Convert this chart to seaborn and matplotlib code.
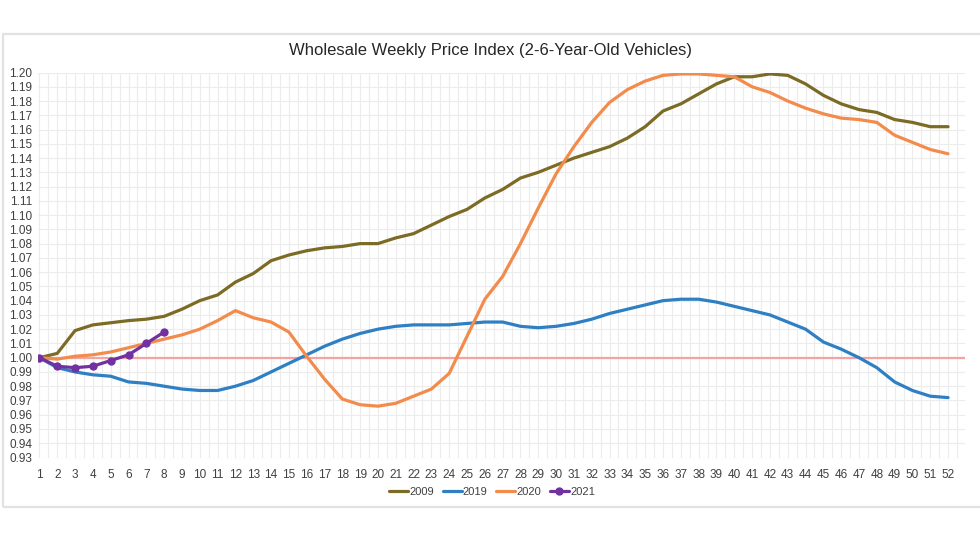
import numpy as np
import pandas as pd
import matplotlib
matplotlib.use("Agg")
import matplotlib.pyplot as plt
from matplotlib.patches import Rectangle
from matplotlib.ticker import MultipleLocator
from matplotlib.lines import Line2D
import seaborn as sns

weeks = list(range(1, 53))

y2009 = [1.000, 1.003, 1.019, 1.023, 1.0245, 1.026, 1.027, 1.029, 1.034, 1.040,
         1.044, 1.053, 1.059, 1.068, 1.072, 1.075, 1.077, 1.078, 1.080, 1.080,
         1.084, 1.087, 1.093, 1.099, 1.104, 1.112, 1.118, 1.126, 1.130, 1.135,
         1.140, 1.144, 1.148, 1.154, 1.162, 1.173, 1.178, 1.185, 1.192, 1.197,
         1.197, 1.199, 1.198, 1.192, 1.184, 1.178, 1.174, 1.172, 1.167, 1.165,
         1.162, 1.162]

y2019 = [1.000, 0.993, 0.990, 0.988, 0.987, 0.983, 0.982, 0.980, 0.978, 0.977,
         0.977, 0.980, 0.984, 0.990, 0.996, 1.002, 1.008, 1.013, 1.017, 1.020,
         1.022, 1.023, 1.023, 1.023, 1.024, 1.025, 1.025, 1.022, 1.021, 1.022,
         1.024, 1.027, 1.031, 1.034, 1.037, 1.040, 1.041, 1.041, 1.039, 1.036,
         1.033, 1.030, 1.025, 1.020, 1.011, 1.006, 1.000, 0.993, 0.983, 0.977,
         0.973, 0.972]

y2020 = [1.000, 0.999, 1.001, 1.002, 1.004, 1.007, 1.010, 1.013, 1.016, 1.020,
         1.026, 1.033, 1.028, 1.025, 1.018, 1.001, 0.985, 0.971, 0.967, 0.966,
         0.968, 0.973, 0.978, 0.989, 1.015, 1.041, 1.057, 1.080, 1.105, 1.129,
         1.148, 1.165, 1.179, 1.188, 1.194, 1.198, 1.199, 1.199, 1.198, 1.197,
         1.190, 1.186, 1.180, 1.175, 1.171, 1.168, 1.167, 1.165, 1.156, 1.151,
         1.146, 1.143]

weeks2021 = [1, 2, 3, 4, 5, 6, 7, 8]
y2021 = [1.000, 0.994, 0.993, 0.994, 0.998, 1.002, 1.010, 1.018]

series_names = ["2009", "2019", "2020", "2021"]
colors = {"2009": "#7b6b24", "2019": "#2e7fc3", "2020": "#f28b4c", "2021": "#7131a1"}

df = pd.concat([
    pd.DataFrame({"week": weeks, "index": y2009, "year": "2009"}),
    pd.DataFrame({"week": weeks, "index": y2019, "year": "2019"}),
    pd.DataFrame({"week": weeks, "index": y2020, "year": "2020"}),
    pd.DataFrame({"week": weeks2021, "index": y2021, "year": "2021"}),
], ignore_index=True)

sns.set_theme(style="white")
plt.rcParams["font.family"] = ["Liberation Sans", "DejaVu Sans"]

fig = plt.figure(figsize=(9.8, 5.52), dpi=100)
ax = fig.add_axes([38 / 980, (552 - 457.5) / 552, (965 - 38) / 980, (457.5 - 72.5) / 552])

# outer chart border
fig.patches.append(Rectangle((3 / 980, (552 - 507) / 552), 1.0, (507 - 34) / 552,
                             transform=fig.transFigure, fill=False,
                             edgecolor="#e2e2e2", linewidth=1.6, zorder=0))

ax.axhline(1.0, color="#f4a3a3", linewidth=1.6, zorder=1)

sns.lineplot(data=df[df.year != "2021"], x="week", y="index", hue="year",
             hue_order=["2009", "2019", "2020"], palette=colors,
             linewidth=2.3, ax=ax, legend=False, zorder=3)
sns.lineplot(data=df[df.year == "2021"], x="week", y="index", color=colors["2021"],
             linewidth=2.3, marker="o", markersize=6, markeredgewidth=0,
             ax=ax, legend=False, zorder=4)

ax.set_xlim(0.92, 52.95)
ax.set_ylim(0.93, 1.20)
ax.set_xticks(weeks)
ax.set_xticklabels([str(w) for w in weeks])
yt = np.round(np.arange(0.93, 1.2001, 0.01), 2)
ax.set_yticks(yt)
ax.set_yticklabels([f"{v:.2f}" for v in yt])
ax.xaxis.set_minor_locator(MultipleLocator(0.5))
ax.grid(True, which="major", color="#ececec", linewidth=0.8, zorder=0)
ax.grid(True, which="minor", axis="x", color="#ececec", linewidth=0.8, zorder=0)
ax.set_axisbelow(True)
for s in ax.spines.values():
    s.set_visible(False)
ax.tick_params(axis="both", which="both", length=0, labelsize=8.5, colors="#404040")
ax.tick_params(axis="x", pad=8)
ax.tick_params(axis="y", pad=4)
ax.set_xlabel("")
ax.set_ylabel("")

fig.text(0.5, (552 - 50) / 552, "Wholesale Weekly Price Index (2-6-Year-Old Vehicles)",
         ha="center", va="center", fontsize=12, color="#262626")

handles = [Line2D([], [], color=colors["2009"], lw=2.3),
           Line2D([], [], color=colors["2019"], lw=2.3),
           Line2D([], [], color=colors["2020"], lw=2.3),
           Line2D([], [], color=colors["2021"], lw=2.3, marker="o", markersize=5)]
fig.legend(handles, series_names, loc="center", bbox_to_anchor=(492 / 980, (552 - 492) / 552),
           ncol=4, frameon=False, fontsize=8, handlelength=1.7, handletextpad=0.1,
           columnspacing=0.8, labelcolor="#404040")

fig.savefig("out.png", dpi=100, facecolor="white")
